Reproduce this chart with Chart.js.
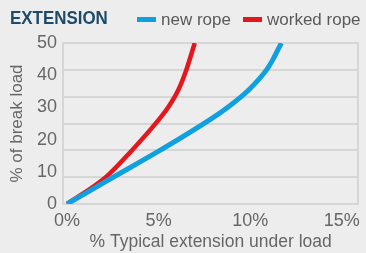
<!DOCTYPE html>
<html>
<head>
<meta charset="utf-8">
<script src="https://cdn.jsdelivr.net/npm/chart.js@4"></script>
<style>
  body { margin: 0; background: #ededed; }
  #wrap { position: relative; width: 366px; height: 253px; }
  .hd { position: absolute; white-space: nowrap; font-family: "Liberation Sans", Arial, sans-serif; }
  #title { left: 10px; top: 9px; font-size: 18px; line-height: 18px; font-weight: bold; color: #1d4a6b;
           transform: scaleX(0.94); transform-origin: left top; }
  .lg { top: 11px; font-size: 17px; line-height: 17px; color: #5a5a5a; }
  .sw { position: absolute; top: 17px; width: 19px; height: 5px; }
</style>
</head>
<body>
<div id="wrap">
  <canvas id="extChart"></canvas>
  <div class="hd" id="title">EXTENSION</div>
  <div class="sw" style="left:137px;background:#0fa0e0"></div>
  <div class="hd lg" style="left:161px">new rope</div>
  <div class="sw" style="left:243px;background:#e5161c"></div>
  <div class="hd lg" style="left:267px">worked rope</div>
</div>
<script>
// % extension vs % of break load
const newRope = [[0, 0], [2.3, 7.6], [5.0, 16.4], [7.42, 24.8], [8.76, 30.0], [9.93, 35.5], [10.91, 41.8], [11.25, 45.0], [11.7, 50]];
const workedRope = [[0, 0], [2.15, 8.5], [3.5, 16.4], [4.85, 25.1], [5.55, 30.3], [6.08, 35.5], [6.52, 41.8], [6.97, 50]];
const xTicks = [0, 5, 10, 15];
const yTicks = [0, 10, 20, 30, 40, 50];
const gridSteps = 6; // the background rules don't line up with the labels

const grey = '#666';
const rule = '#d6d6d6';
const toPts = arr => arr.map(p => ({ x: p[0], y: p[1] }));

document.addEventListener('DOMContentLoaded', () => {
  const ctx = document.getElementById('extChart').getContext('2d');
  new Chart(ctx, {
    type: 'scatter',
    data: {
      datasets: [{
        label: 'new rope',
        data: toPts(newRope),
        showLine: true,
        borderColor: '#0fa0e0',
        borderWidth: 5,
        pointRadius: 0,
        cubicInterpolationMode: 'monotone'
      }, {
        label: 'worked rope',
        data: toPts(workedRope),
        showLine: true,
        borderColor: '#e5161c',
        borderWidth: 4.5,
        pointRadius: 0,
        cubicInterpolationMode: 'monotone'
      }]
    },
    options: {
      responsive: true,
      maintainAspectRatio: false,
      animation: false,
      layout: { padding: { top: 43 } },
      plugins: { legend: { display: false }, tooltip: { enabled: false } },
      scales: {
        x: {
          type: 'linear',
          min: -0.22,
          max: 15.9,
          afterBuildTicks: s => { s.ticks = xTicks.map(v => ({ value: v })); },
          afterFit: s => { s.height = 49; },
          ticks: { callback: v => v + '%', color: grey, padding: 6,
                   font: { family: 'Liberation Sans', size: 18 } },
          grid: { display: false, drawTicks: false },
          border: { display: true, color: rule, width: 2 },
          title: { display: true, text: '% Typical extension under load', color: grey,
                   padding: { top: 0, bottom: 0 }, font: { family: 'Liberation Sans', size: 17.5 } }
        },
        y: {
          min: 0,
          max: 50,
          afterBuildTicks: s => { s.ticks = yTicks.map(v => ({ value: v })); },
          afterFit: s => { s.width = 63; },
          ticks: { color: grey, padding: 6, font: { family: 'Liberation Sans', size: 18 } },
          grid: { display: false, drawTicks: false },
          border: { display: true, color: rule, width: 2 },
          title: { display: true, text: '% of break load', color: grey,
                   padding: { top: 7, bottom: 0 }, font: { family: 'Liberation Sans', size: 17 } }
        },
        yg: {
          position: 'right',
          min: 0,
          max: 50,
          afterBuildTicks: s => {
            const t = [];
            for (let i = 0; i <= gridSteps; i++) t.push({ value: 50 * i / gridSteps });
            s.ticks = t;
          },
          afterFit: s => { s.width = 3; },
          ticks: { display: false },
          grid: { color: rule, lineWidth: 2, drawTicks: false },
          border: { display: true, color: rule, width: 2 }
        }
      }
    }
  });
});
</script>
</body>
</html>
